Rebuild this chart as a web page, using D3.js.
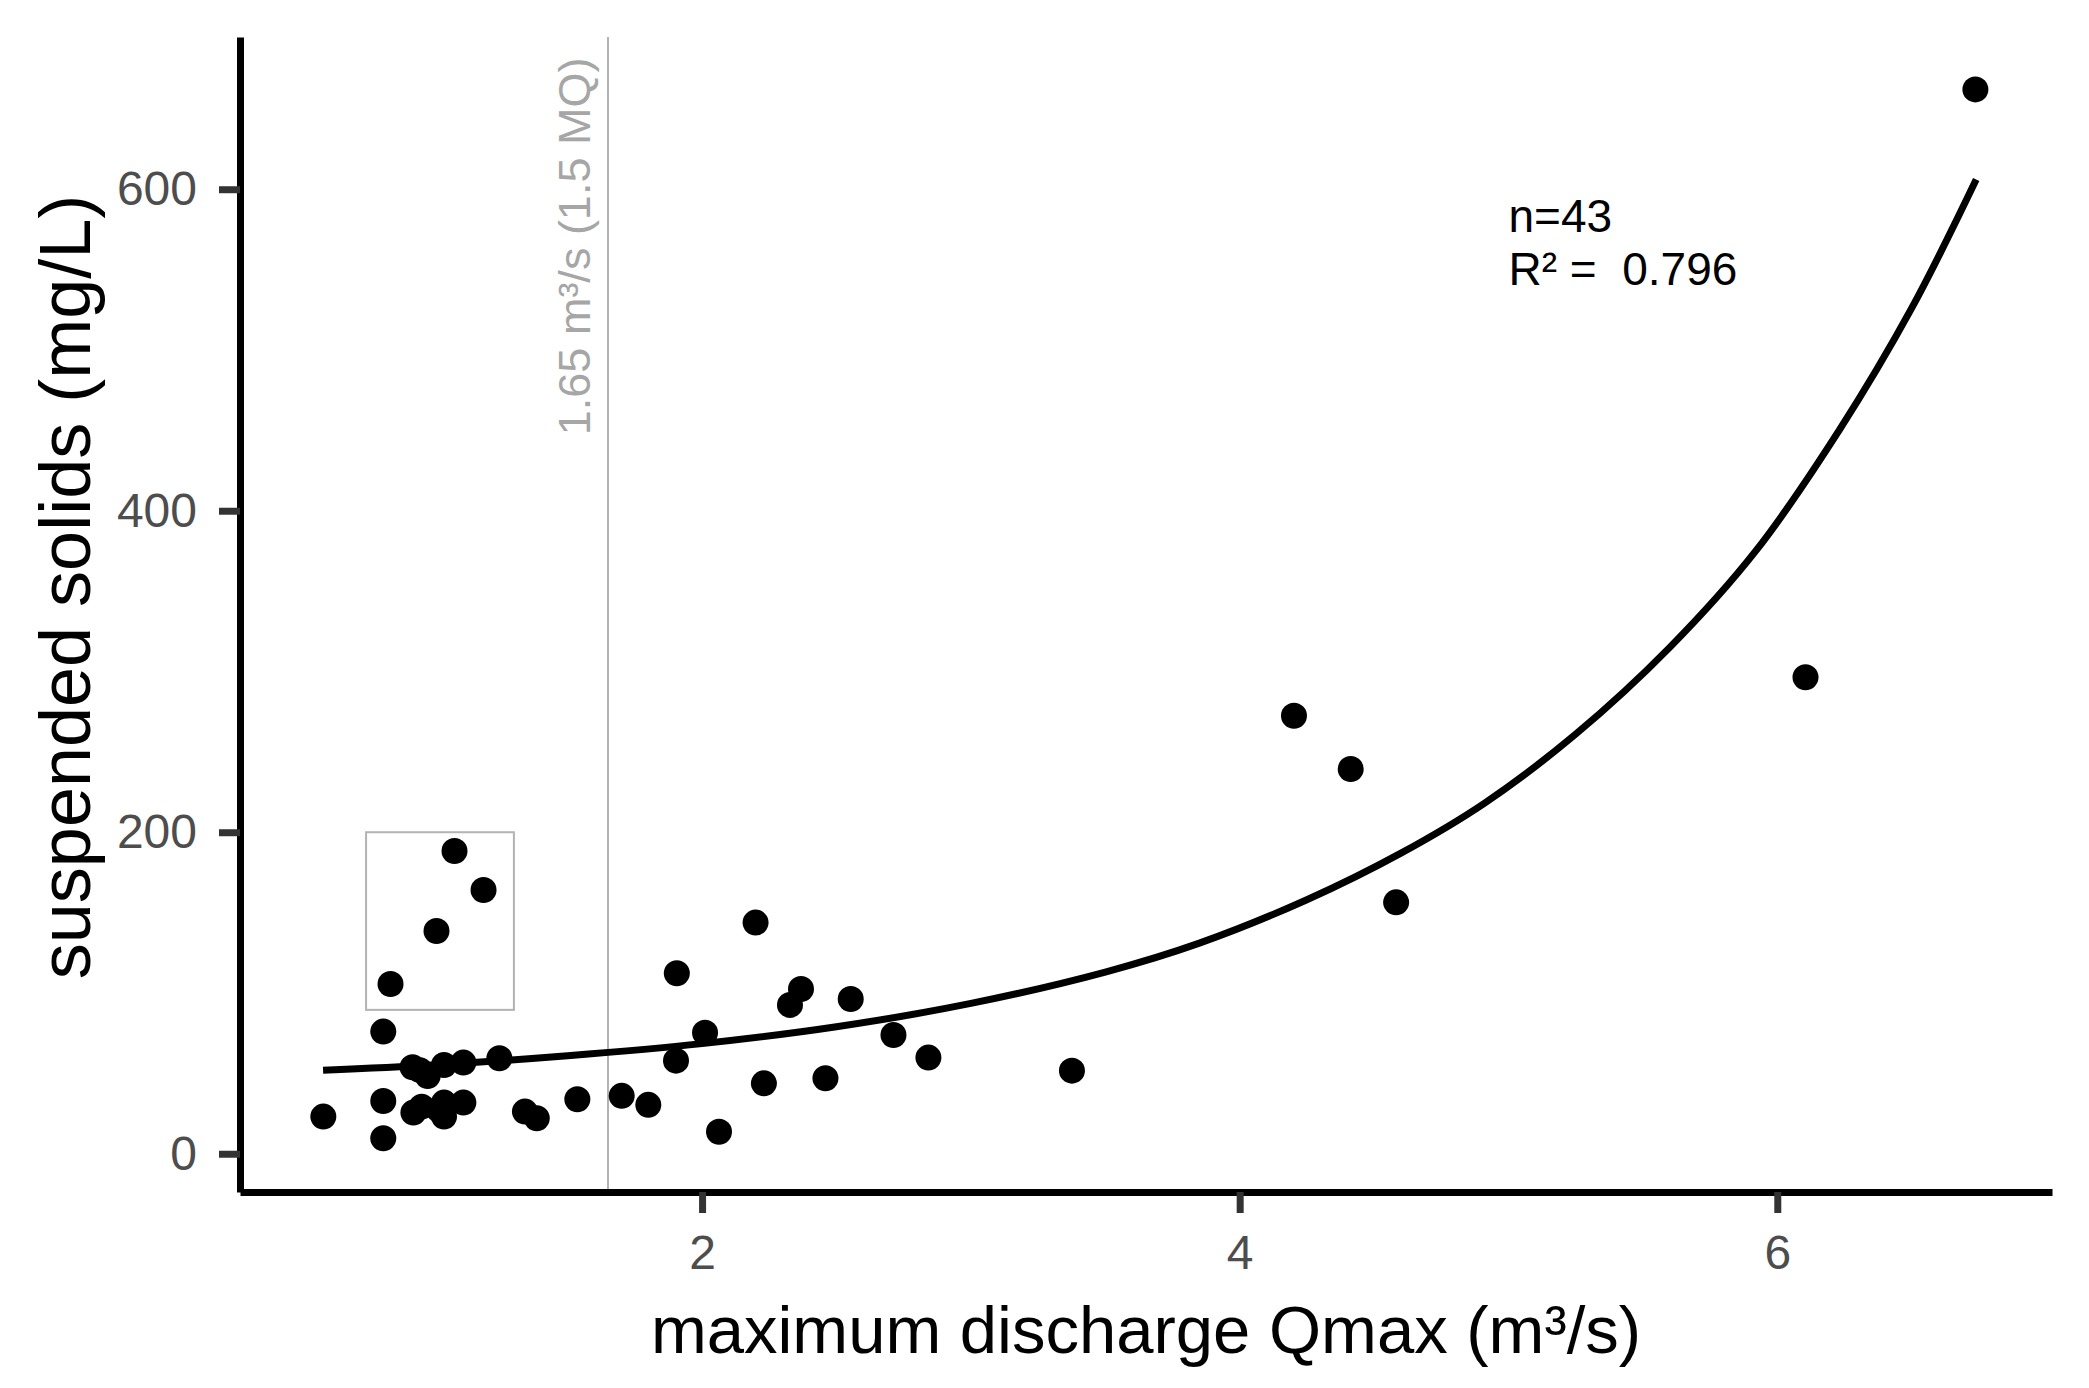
<!DOCTYPE html>
<html>
<head>
<meta charset="utf-8">
<script src="https://cdn.jsdelivr.net/npm/d3@7"></script>
<style>
  body { margin: 0; background: #fff; }
  text { font-family: "Liberation Sans", Arial, sans-serif; }
</style>
</head>
<body>
<svg id="chart"></svg>
<script>
// observed samples: maximum discharge (m³/s) and suspended solids (mg/L)
var qmax = [1.079, 1.187, 1.012, 0.841, 0.814,
            0.923, 0.979, 1.040, 1.112, 1.246, 0.950,
            0.591, 0.814, 0.814, 0.926, 0.957, 1.040, 1.040, 1.112, 1.341, 1.385, 1.536, 1.020,
            1.701, 1.800, 1.906, 1.903, 2.011, 2.063, 2.199, 2.230, 2.327, 2.368, 2.459, 2.553, 2.712, 2.842, 3.376,
            4.202, 4.413, 4.582, 6.105, 6.737];
var ss   = [188.3, 164.1, 138.6, 105.6, 76.0,
            53.8, 48.4, 55.2, 56.7, 59.4, 52.0,
            23.1, 32.8, 9.6, 25.6, 29.3, 31.8, 23.1, 31.8, 26.2, 22.1, 33.9, 27.5,
            36.0, 30.4, 112.3, 57.9, 75.3, 13.7, 143.8, 43.8, 92.6, 102.5, 47.0, 96.3, 73.9, 59.8, 51.7,
            272.5, 239.3, 156.4, 296.4, 662.1];

// fitted curve
var fitQ  = [0.59, 1.0, 1.5, 2.0, 2.5, 3.0, 3.5, 3.85, 4.25, 4.6, 4.91, 5.25, 5.6, 5.92, 6.23, 6.5, 6.74];
var fitSS = [52, 55.2, 61, 68.5, 79, 93.5, 113, 131, 158, 187, 218, 261, 315, 375, 450, 526, 606];

var xTicks = [2, 4, 6];
var yTicks = [0, 200, 400, 600];

var mqLine = 1.65;
var mqLabel = "1.65 m³/s (1.5 MQ)";
var boxQ = [0.75, 1.30];
var boxSS = [89.5, 200];

var width = 2089, height = 1388;
var padL = 240, padR = 2052, padT = 37, padB = 1192;

var svg = d3.select("#chart")
    .attr("width", width)
    .attr("height", height);

var x = d3.scaleLinear().domain([0.281, 7.022]).range([padL, padR]);
var y = d3.scaleLinear().domain([-23.8, 694.7]).range([padB, padT]);

// reference line at 1.5 MQ
svg.append("line")
    .attr("x1", x(mqLine)).attr("x2", x(mqLine))
    .attr("y1", padT).attr("y2", padB)
    .attr("stroke", "#b3b3b3")
    .attr("stroke-width", 2);

svg.append("text")
    .attr("transform", "translate(" + (x(mqLine) - 18) + "," + y(447) + ") rotate(-90)")
    .attr("font-size", 45)
    .attr("fill", "#a6a6a6")
    .text(mqLabel);

// highlight box
svg.append("rect")
    .attr("x", x(boxQ[0]))
    .attr("y", y(boxSS[1]))
    .attr("width", x(boxQ[1]) - x(boxQ[0]))
    .attr("height", y(boxSS[0]) - y(boxSS[1]))
    .attr("fill", "none")
    .attr("stroke", "#b3b3b3")
    .attr("stroke-width", 2);

// fit line
var line = d3.line()
    .x(d => x(d[0]))
    .y(d => y(d[1]))
    .curve(d3.curveCatmullRom);

svg.append("path")
    .datum(d3.zip(fitQ, fitSS))
    .attr("d", line)
    .attr("fill", "none")
    .attr("stroke", "black")
    .attr("stroke-width", 7);

// points
svg.append("g")
    .selectAll("circle")
    .data(d3.zip(qmax, ss))
    .enter()
    .append("circle")
    .attr("cx", d => x(d[0]))
    .attr("cy", d => y(d[1]))
    .attr("r", 13)
    .attr("fill", "black");

// axes
var xAxis = svg.append("g")
    .attr("transform", "translate(0," + padB + ")")
    .call(d3.axisBottom(x).tickValues(xTicks).tickSize(21).tickSizeOuter(0).tickPadding(22)
        .tickFormat(d3.format("d")));

var yAxis = svg.append("g")
    .attr("transform", "translate(" + padL + ",0)")
    .call(d3.axisLeft(y).tickValues(yTicks).tickSize(21).tickSizeOuter(0).tickPadding(22)
        .tickFormat(d3.format("d")));

[xAxis, yAxis].forEach(function (g) {
  g.select(".domain").attr("stroke", "black").attr("stroke-width", 7);
  g.selectAll(".tick line").attr("stroke", "#333333").attr("stroke-width", 7);
  g.selectAll(".tick text")
      .attr("font-size", 48)
      .attr("fill", "#4d4d4d")
      .style("font-family", "'Liberation Sans', Arial, sans-serif");
});

// axis titles
svg.append("text")
    .attr("x", (padL + padR) / 2)
    .attr("y", 1353)
    .attr("text-anchor", "middle")
    .attr("font-size", 67)
    .attr("fill", "black")
    .text("maximum discharge Qmax (m³/s)");

svg.append("text")
    .attr("transform", "translate(90,587) rotate(-90)")
    .attr("text-anchor", "middle")
    .attr("font-size", 72)
    .attr("fill", "black")
    .text("suspended solids (mg/L)");

// fit statistics
var stats = svg.append("text")
    .attr("font-size", 46)
    .attr("fill", "black")
    .style("white-space", "pre");
stats.append("tspan").attr("x", x(5.0)).attr("y", 232).text("n=43");
stats.append("tspan").attr("x", x(5.0)).attr("y", 285).text("R² =  0.796");
</script>
</body>
</html>
